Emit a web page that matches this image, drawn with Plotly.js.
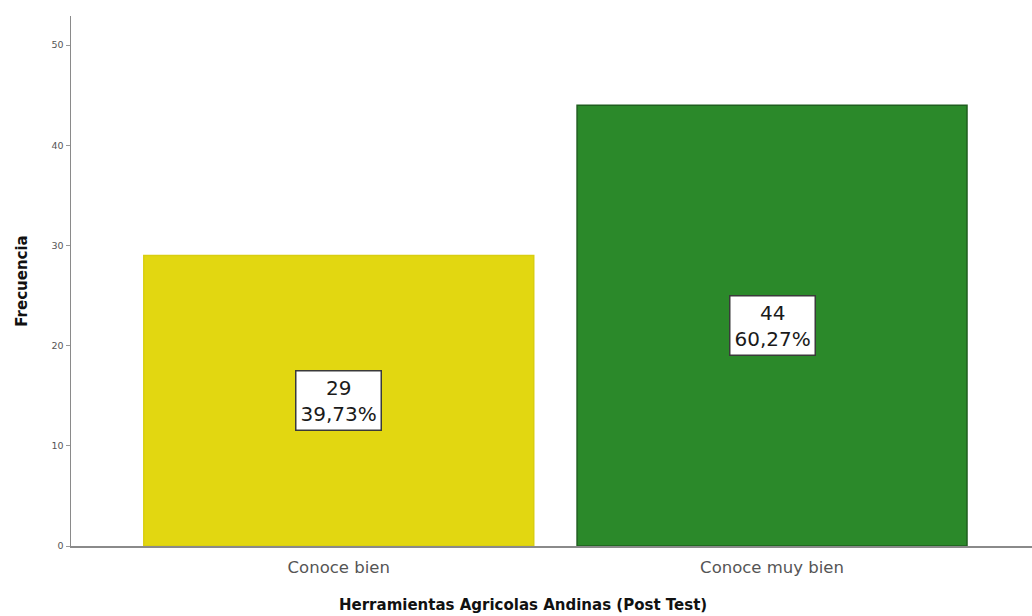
<!DOCTYPE html>
<html>
<head>
<meta charset="utf-8">
<script src="https://cdn.plot.ly/plotly-3.0.1.min.js"></script>
<style>html,body{margin:0;padding:0;background:#fff;}#chart{width:1032px;height:616px;}</style>
</head>
<body>
<div id="chart"></div>
<script>
const categories = ["Conoce bien", "Conoce muy bien"];
const counts = [29, 44];
const percents = ["39,73%", "60,27%"];
const barColors = ["#E2D711", "#2B892A"];
const barEdges = ["#D9CE10", "#1F5E1F"];
const yTicks = [0, 10, 20, 30, 40, 50];
const xTitle = "Herramientas Agricolas Andinas (Post Test)";
const yTitle = "Frecuencia";

const FONT = "DejaVu Sans, Verdana, sans-serif";

const trace = {
  type: "bar",
  x: categories,
  y: counts,
  width: 0.9,
  marker: {color: barColors, line: {color: barEdges, width: 1.5}},
  hoverinfo: "none"
};

const annotations = categories.map((c, i) => ({
  x: c, y: counts[i] / 2, xref: "x", yref: "y",
  text: counts[i] + "<br>" + percents[i],
  showarrow: false,
  font: {family: FONT, size: 20, color: "#1a1a1a"},
  bgcolor: "#FFFFFF",
  bordercolor: "#3a3a3a",
  borderwidth: 1.5,
  borderpad: 4,
  align: "center"
}));

annotations.push({
  xref: "paper", yref: "paper", x: 0.47, y: -0.112,
  xanchor: "center", yanchor: "middle",
  text: "<b>" + xTitle + "</b>",
  showarrow: false,
  font: {family: FONT, size: 15, color: "#111"}
});

const layout = {
  width: 1032, height: 616,
  margin: {l: 71, r: 0, t: 16, b: 70},
  paper_bgcolor: "#fff", plot_bgcolor: "#fff",
  showlegend: false,
  bargap: 0.1,
  xaxis: {
    type: "category",
    range: [-0.618, 1.6],
    showline: true, linecolor: "#8a8a8a", linewidth: 1.5,
    ticks: "", showgrid: false, zeroline: false,
    ticklabelstandoff: 6,
    tickfont: {family: FONT, size: 16.5, color: "#555"}
  },
  yaxis: {
    range: [0, 52.9],
    tickvals: yTicks,
    showline: true, linecolor: "#8a8a8a", linewidth: 1.5,
    ticks: "outside", ticklen: 4, tickcolor: "#999",
    showgrid: false, zeroline: false,
    tickfont: {family: FONT, size: 9.5, color: "#555"},
    title: {text: "<b>" + yTitle + "</b>", standoff: 20,
            font: {family: FONT, size: 15, color: "#111"}}
  },
  annotations: annotations
};

Plotly.newPlot("chart", [trace], layout, {displayModeBar: false, staticPlot: true});
</script>
</body>
</html>
